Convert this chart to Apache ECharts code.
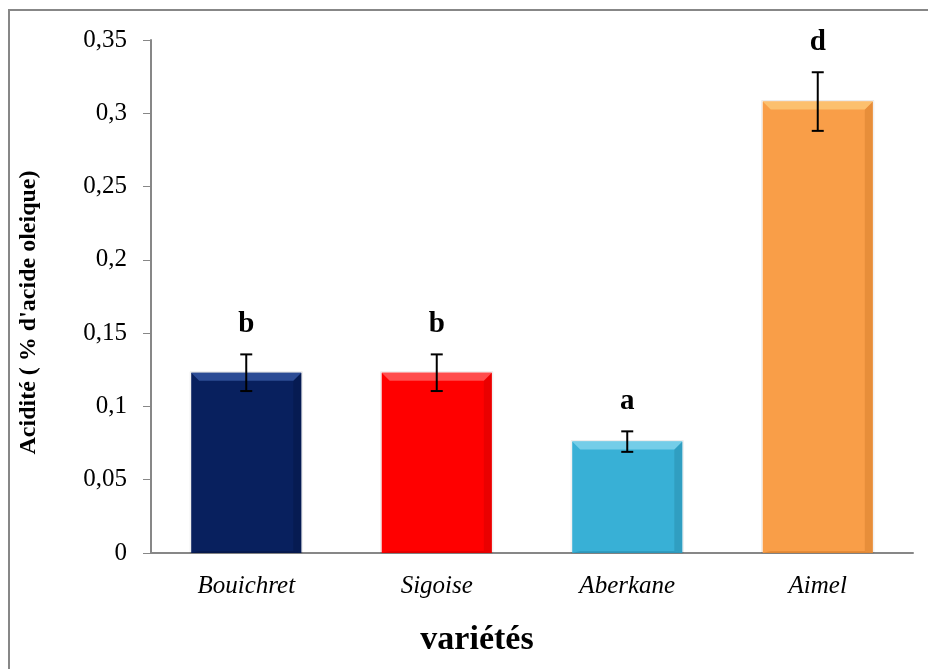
<!DOCTYPE html>
<html>
<head>
<meta charset="utf-8">
<script src="https://cdn.jsdelivr.net/npm/echarts@6/dist/echarts.min.js"></script>
<style>
  html, body { margin: 0; padding: 0; background: #fff; }
  #chart { width: 928px; height: 669px; }
</style>
</head>
<body>
<div id="chart"></div>
<script>
// Acidity of olive oil by variety (% oleic acid), mean ± SD with group letters
const varieties = ['Bouichret', 'Sigoise', 'Aberkane', 'Aimel'];
const acidity = [0.123, 0.123, 0.076, 0.308];
const stdDev = [0.0125, 0.0125, 0.007, 0.02];
const groups = ['b', 'b', 'a', 'd'];
const yTicks = { min: 0, max: 0.35, interval: 0.05 };

// fill, top bevel, side shade per bar
const palette = [
  { base: '#08205e', top: '#2c4c95', side: '#061848' },
  { base: '#ff0000', top: '#ff4d4d', side: '#d80000' },
  { base: '#38b0d6', top: '#74cde8', side: '#2a8fb0' },
  { base: '#f99e48', top: '#fcc06e', side: '#d9812f' }
];

const serif = '"Liberation Serif", "Times New Roman", serif';
const chart = echarts.init(document.getElementById('chart'));

function renderBar(params, api) {
  const i = api.value(0);
  const v = api.value(1);
  const sd = api.value(2);
  const topPt = api.coord([i, v]);
  const basePt = api.coord([i, 0]);
  const w = api.size([1, 0])[0] * 0.578;
  const l = topPt[0] - w / 2, r = topPt[0] + w / 2;
  const t = topPt[1], b = basePt[1];
  const bev = 8;
  const c = palette[i % palette.length];
  const errTop = api.coord([i, v + sd])[1];
  const errBot = api.coord([i, v - sd])[1];
  const cx = topPt[0];
  const cap = 6;
  return {
    type: 'group',
    children: [
      { type: 'rect', shape: { x: l, y: t, width: w, height: b - t }, style: { fill: c.base } },
      // right shade
      { type: 'polygon', shape: { points: [[r, t], [r - bev, t + bev], [r - bev, b - 2], [r, b]] },
        style: { fill: c.side, opacity: 0.55 } },
      // bottom shade
      { type: 'polygon', shape: { points: [[l, b], [l + bev, b - 2], [r - bev, b - 2], [r, b]] },
        style: { fill: c.side, opacity: 0.6 } },
      // top bevel
      { type: 'polygon', shape: { points: [[l, t], [r, t], [r - bev, t + bev], [l + bev, t + bev]] },
        style: { fill: c.top } },
      // thin edge glow
      { type: 'rect', shape: { x: l - 1, y: t - 1, width: w + 2, height: b - t + 1 },
        style: { fill: 'none', stroke: 'rgba(0,0,0,0.08)', lineWidth: 1 } },
      // error bar
      { type: 'line', shape: { x1: cx, y1: errTop, x2: cx, y2: errBot }, style: { stroke: '#000', lineWidth: 2 } },
      { type: 'line', shape: { x1: cx - cap, y1: errTop, x2: cx + cap, y2: errTop }, style: { stroke: '#000', lineWidth: 2 } },
      { type: 'line', shape: { x1: cx - cap, y1: errBot, x2: cx + cap, y2: errBot }, style: { stroke: '#000', lineWidth: 2 } },
      // group letter
      { type: 'text', style: { text: groups[i], x: cx, y: errTop - 15, align: 'center', verticalAlign: 'bottom',
          font: 'bold 29px ' + serif, fill: '#000' } }
    ]
  };
}

chart.setOption({
  animation: false,
  backgroundColor: '#fff',
  graphic: [
    { type: 'rect', shape: { x: 9, y: 10, width: 960, height: 700 },
      style: { fill: 'none', stroke: '#878787', lineWidth: 2 }, silent: true }
  ],
  grid: { left: 151, right: 15, top: 40, bottom: 116 },
  xAxis: {
    type: 'category',
    data: varieties,
    axisLine: { lineStyle: { color: '#878787', width: 2 } },
    axisTick: { show: false },
    axisLabel: { fontFamily: serif, fontStyle: 'italic', fontSize: 25, color: '#000', margin: 21 },
    name: 'variétés',
    nameLocation: 'middle',
    nameGap: 70,
    nameTextStyle: { fontFamily: serif, fontWeight: 'bold', fontSize: 34, color: '#000', padding: [0, 110, 0, 0] }
  },
  yAxis: {
    type: 'value',
    min: yTicks.min,
    max: yTicks.max,
    interval: yTicks.interval,
    axisLine: { show: true, lineStyle: { color: '#878787', width: 2 } },
    axisTick: { show: true, inside: false, length: 8, lineStyle: { color: '#878787', width: 1 } },
    splitLine: { show: false },
    axisLabel: {
      fontFamily: serif, fontSize: 25, color: '#000', margin: 24,
      formatter: v => String(+v.toFixed(2)).replace('.', ',')
    },
    name: "Acidité ( % d'acide oleique)",
    nameLocation: 'middle',
    nameGap: 110,
    nameRotate: 90,
    nameTextStyle: { fontFamily: serif, fontWeight: 'bold', fontSize: 24, color: '#000', padding: [0, 32, 0, 0] }
  },
  series: [{
    type: 'custom',
    renderItem: renderBar,
    encode: { x: 0, y: 1 },
    data: varieties.map((name, i) => [i, acidity[i], stdDev[i]])
  }]
});
</script>
</body>
</html>
